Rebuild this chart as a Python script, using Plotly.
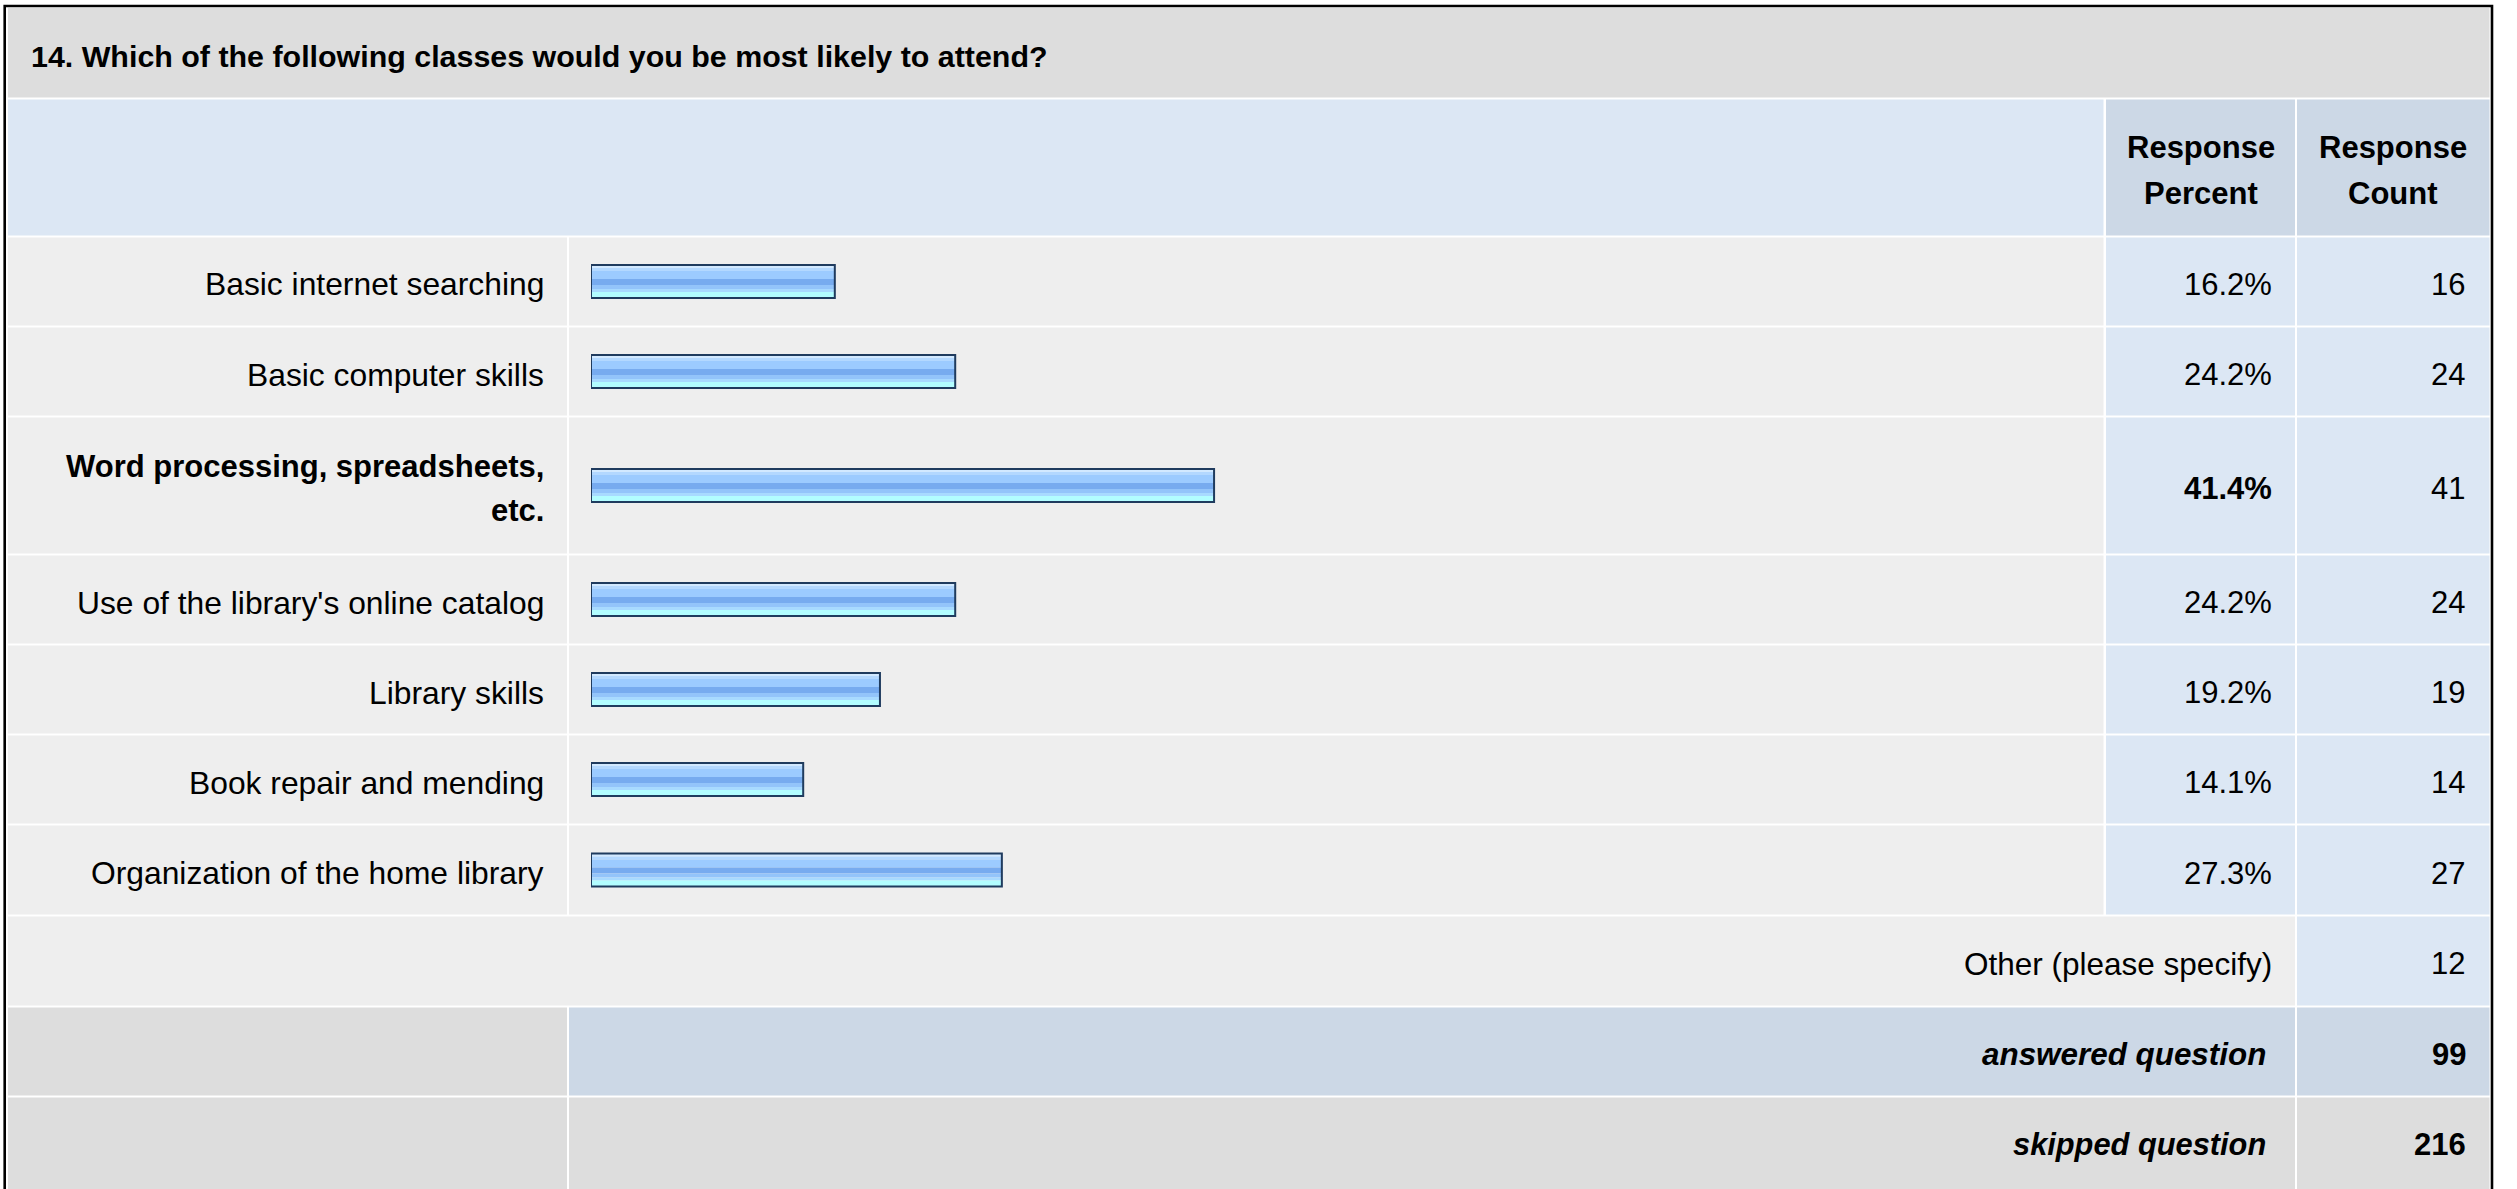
import plotly.graph_objects as go

# ---------------- data ----------------
title = "14. Which of the following classes would you be most likely to attend?"
categories = [
    "Basic internet searching",
    "Basic computer skills",
    "Word processing, spreadsheets,<br>etc.",
    "Use of the library's online catalog",
    "Library skills",
    "Book repair and mending",
    "Organization of the home library",
]
percents = [16.2, 24.2, 41.4, 24.2, 19.2, 14.1, 27.3]
counts = [16, 24, 41, 24, 19, 14, 27]
header_percent = ["Response", "Percent"]
header_count = ["Response", "Count"]
other_label = "Other (please specify)"
other_count = 12
answered_label = "answered question"
answered_count = 99
skipped_label = "skipped question"
skipped_count = 216

# ---------------- layout constants (pixels) ----------------
W, H = 2517, 1189
FONT = "Arial, Liberation Sans, Helvetica, sans-serif"
X_LEFT, X_LABEL_R = 8, 567
X_BAR_L, X_BAR_R = 569, 2103.5
X_PCT_L, X_PCT_R = 2106, 2295
X_CNT_L, X_CNT_R = 2297, 2489.5
GAP = 2
TITLE_Y = (8, 97.5)
HEADER_Y = (99.5, 235.5)
row_heights = [88, 88, 136, 88, 88, 88, 89]
foot_heights = [89, 88, 100]
LINE_SP = 44
HEAD_LINE_SP = 46
TXT_DY = 3

C_TITLE = "#DDDDDD"
C_CELL = "#EEEEEE"
C_BLUE = "#DCE7F4"
C_HEAD = "#CCD8E6"

shapes, annotations = [], []


def rect(x0, y0, x1, y1, color):
    shapes.append(dict(type="rect", xref="paper", yref="paper",
                       x0=x0 / W, x1=x1 / W, y0=1 - y0 / H, y1=1 - y1 / H,
                       fillcolor=color, line=dict(width=0), layer="below"))


def text(x, y, s, size=31, anchor="right"):
    annotations.append(dict(xref="paper", yref="paper", x=x / W, y=1 - y / H,
                            text=s, showarrow=False, xanchor=anchor, yanchor="middle",
                            borderpad=0,
                            font=dict(family=FONT, size=size, color="black")))


def multiline(x, yc, s, size=31, anchor="right", bold=False, sp=LINE_SP):
    lines = s.split("<br>")
    n = len(lines)
    for i, ln in enumerate(lines):
        t = f"<b>{ln}</b>" if bold else ln
        text(x, yc + TXT_DY + (i - (n - 1) / 2) * sp, t, size, anchor)


# outer border
shapes.append(dict(type="rect", xref="paper", yref="paper",
                   x0=4.7 / W, x1=2492 / W, y0=1 - 6 / H, y1=1 - 1220 / H,
                   line=dict(color="black", width=2.6), fillcolor="rgba(0,0,0,0)",
                   layer="below"))

# title band
rect(X_LEFT, TITLE_Y[0], X_CNT_R, TITLE_Y[1], C_TITLE)
text(30, (TITLE_Y[0] + TITLE_Y[1]) / 2 + TXT_DY, f"<b>{title}</b>", 30.4, "left")

# header
rect(X_LEFT, HEADER_Y[0], X_BAR_R, HEADER_Y[1], C_BLUE)
rect(X_PCT_L, HEADER_Y[0], X_PCT_R, HEADER_Y[1], C_HEAD)
rect(X_CNT_L, HEADER_Y[0], X_CNT_R, HEADER_Y[1], C_HEAD)
hc = (HEADER_Y[0] + HEADER_Y[1]) / 2
multiline((X_PCT_L + X_PCT_R) / 2, hc, "<br>".join(header_percent), 31, "center", True, HEAD_LINE_SP)
multiline((X_CNT_L + X_CNT_R) / 2, hc, "<br>".join(header_count), 31, "center", True, HEAD_LINE_SP)

# data rows
top = HEADER_Y[1] + GAP
centers = []
best = percents.index(max(percents))
for i, (cat, p, c) in enumerate(zip(categories, percents, counts)):
    h = row_heights[i]
    bot = top + h
    yc = (top + bot) / 2
    centers.append(yc)
    rect(X_LEFT, top, X_LABEL_R, bot, C_CELL)
    rect(X_BAR_L, top, X_BAR_R, bot, C_CELL)
    rect(X_PCT_L, top, X_PCT_R, bot, C_BLUE)
    rect(X_CNT_L, top, X_CNT_R, bot, C_BLUE)
    bold = (i == best)
    multiline(545, yc, cat, 31 if bold else 31.8, "right", bold)
    ptxt = f"{p:.1f}%"
    text(2273, yc + TXT_DY, f"<b>{ptxt}</b>" if bold else ptxt, 31)
    text(2466, yc + TXT_DY, str(c), 31)
    top = bot + GAP

# footer rows
h = foot_heights[0]; bot = top + h; yc = (top + bot) / 2
rect(X_LEFT, top, X_PCT_R, bot, C_CELL)
rect(X_CNT_L, top, X_CNT_R, bot, C_BLUE)
text(2273, yc + TXT_DY, other_label, 31.5)
text(2466, yc + TXT_DY, str(other_count), 31)
top = bot + GAP

h = foot_heights[1]; bot = top + h; yc = (top + bot) / 2
rect(X_LEFT, top, X_LABEL_R, bot, C_TITLE)
rect(X_BAR_L, top, X_PCT_R, bot, C_HEAD)
rect(X_CNT_L, top, X_CNT_R, bot, C_HEAD)
text(2267, yc + TXT_DY, f"<b><i>{answered_label}</i></b>", 31.4)
text(2467, yc + TXT_DY, f"<b>{answered_count}</b>", 31)
top = bot + GAP

h = foot_heights[2]; bot = top + h; yc = top + 44
rect(X_LEFT, top, X_LABEL_R, bot, C_TITLE)
rect(X_BAR_L, top, X_PCT_R, bot, C_TITLE)
rect(X_CNT_L, top, X_CNT_R, bot, C_TITLE)
text(2267, yc + TXT_DY, f"<b><i>{skipped_label}</i></b>", 30.8)
text(2467, yc + TXT_DY, f"<b>{skipped_count}</b>", 31)

# ---------------- bars (gradient stripes + outline) ----------------
BAR_H = 35
half = BAR_H / 2
stripes = [
    (1, 4, "#d2e9ff"),
    (4, 7, "#b3d8ff"),
    (7, 15, "#9ccbff"),
    (15, 21, "#77abef"),
    (21, 25, "#93c4fa"),
    (25, 28, "#a8daff"),
    (28, 34, "#b2fdff"),
]
fig = go.Figure()
for a, b, col in stripes:
    fig.add_trace(go.Bar(x=percents, y=centers, orientation="h", base=0,
                         width=b - a, offset=-half + a,
                         marker=dict(color=col, line=dict(width=0)),
                         hoverinfo="skip", showlegend=False))
fig.add_trace(go.Bar(x=percents, y=centers, orientation="h", base=0,
                     width=BAR_H - 2, offset=-half + 1,
                     marker=dict(color="rgba(0,0,0,0)",
                                 line=dict(color="#1f3b5e", width=2)),
                     hoverinfo="skip", showlegend=False))

fig.update_layout(
    width=W, height=H, autosize=False,
    margin=dict(l=0, r=0, t=0, b=0, pad=0),
    paper_bgcolor="white", plot_bgcolor="rgba(0,0,0,0)",
    barmode="overlay", showlegend=False, hovermode=False,
    xaxis=dict(domain=[591 / W, 2096 / W], range=[0, 100], visible=False,
               fixedrange=True, showgrid=False, zeroline=False),
    yaxis=dict(domain=[0, 1], range=[H, 0], visible=False,
               fixedrange=True, showgrid=False, zeroline=False),
    shapes=shapes, annotations=annotations,
    font=dict(family=FONT, color="black"),
)

fig.write_html("out.html", config={"displayModeBar": False},
               post_script="document.body.style.margin='0';document.documentElement.style.overflow='hidden';")
